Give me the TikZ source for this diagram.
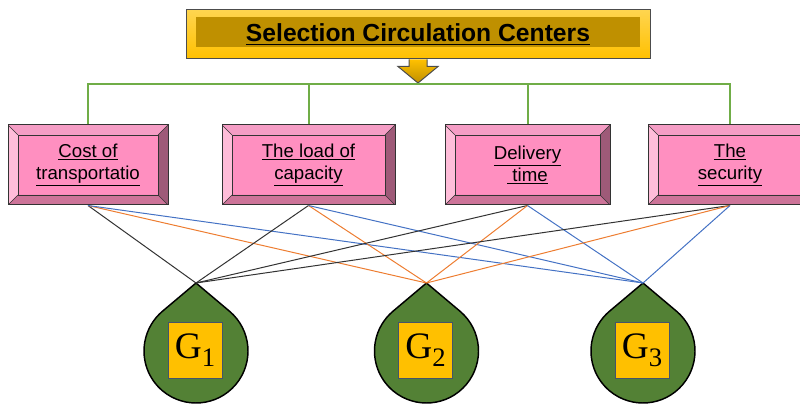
\documentclass[tikz,border=0pt]{standalone}
\usepackage{fontspec}
\setmainfont{Liberation Sans}
\newfontfamily\altfont{Liberation Serif}
\usetikzlibrary{positioning}

\definecolor{pinkfront}{HTML}{FF8FC0}
\definecolor{pinktop}{HTML}{F59DC5}
\definecolor{pinkleft}{HTML}{FFBDD9}
\definecolor{pinkright}{HTML}{9E5A78}
\definecolor{pinkbottom}{HTML}{CD7499}
\definecolor{goldlight}{HTML}{FFD54F}
\definecolor{gold}{HTML}{FFC000}
\definecolor{golddark}{HTML}{BF9000}
\definecolor{busgreen}{HTML}{70AD47}
\definecolor{dropgreen}{HTML}{538135}
\definecolor{lineorange}{HTML}{ED7D31}
\definecolor{lineblue}{HTML}{4472C4}
\definecolor{boxedge}{HTML}{44546A}

% alternative label, G with a large lowered index
\newcommand{\altlabel}[1]{{\altfont G\raisebox{-0.22em}{\fontsize{20}{22}\selectfont #1}}}

\tikzset{
  titlebox/.style={draw=black!70, line width=0.75pt, top color=goldlight, bottom color=gold,
    minimum width=348pt, minimum height=36.75pt, inner sep=0pt,
    font=\fontsize{18.5}{20}\selectfont\bfseries,
    path picture={
      \fill[golddark] ([xshift=7.5pt,yshift=-5.25pt]path picture bounding box.north west)
        rectangle ([xshift=-7.5pt,yshift=9pt]path picture bounding box.south east);
    }},
  critbox/.style={draw=black!80, line width=0.75pt, fill=pinkfront,
    minimum height=60pt, inner sep=0pt, align=center,
    font=\fontsize{14}{16.5}\selectfont,
    path picture={
      \fill[pinktop] (path picture bounding box.north west) -- (path picture bounding box.north east)
        -- ([xshift=-7.5pt,yshift=-7.5pt]path picture bounding box.north east)
        -- ([xshift=7.5pt,yshift=-7.5pt]path picture bounding box.north west) -- cycle;
      \fill[pinkleft] (path picture bounding box.north west) -- (path picture bounding box.south west)
        -- ([xshift=7.5pt,yshift=7.5pt]path picture bounding box.south west)
        -- ([xshift=7.5pt,yshift=-7.5pt]path picture bounding box.north west) -- cycle;
      \fill[pinkright] (path picture bounding box.north east) -- (path picture bounding box.south east)
        -- ([xshift=-7.5pt,yshift=7.5pt]path picture bounding box.south east)
        -- ([xshift=-7.5pt,yshift=-7.5pt]path picture bounding box.north east) -- cycle;
      \fill[pinkbottom] (path picture bounding box.south west) -- (path picture bounding box.south east)
        -- ([xshift=-7.5pt,yshift=7.5pt]path picture bounding box.south east)
        -- ([xshift=7.5pt,yshift=7.5pt]path picture bounding box.south west) -- cycle;
      \draw[black!80, line width=0.6pt]
        ([xshift=7.5pt,yshift=-7.5pt]path picture bounding box.north west)
        rectangle ([xshift=-7.5pt,yshift=7.5pt]path picture bounding box.south east);
      \draw[black!80, line width=0.5pt]
        (path picture bounding box.north west) -- ++(7.5pt,-7.5pt)
        (path picture bounding box.north east) -- ++(-7.5pt,-7.5pt)
        (path picture bounding box.south west) -- ++(7.5pt,7.5pt)
        (path picture bounding box.south east) -- ++(-7.5pt,7.5pt);
    }},
  gbox/.style={draw=boxedge, line width=0.75pt, fill=gold, minimum width=40.5pt,
    minimum height=42pt, inner sep=0pt, font=\fontsize{28}{30}\selectfont},
  drop/.style={fill=dropgreen, draw=black, line width=1.1pt},
  bus/.style={busgreen, line width=1.5pt},
  toone/.style={black!80, line width=0.75pt},
  totwo/.style={lineorange, line width=0.75pt},
  tothree/.style={lineblue, line width=0.75pt}
}

\begin{document}
\begin{tikzpicture}[x=0.75pt,y=0.75pt]
\clip (0,0) rectangle (800,404);

% heading and its arrow
\node[titlebox] (title) at (418,369.5) {\underline{Selection Circulation Centers}};
\draw[black!70, line width=0.75pt, top color=gold, bottom color=golddark]
  ([xshift=-6.75pt]title.south) -- ++(0,-5.25pt) -- ++(-8.25pt,0) -- (418,321)
  -- ([xshift=15pt,yshift=-5.25pt]title.south) -- ++(-8.25pt,0) -- ([xshift=6.75pt]title.south);

% criteria
\node[critbox, minimum width=120pt] (c1) at (88,239) {\underline{Cost of}\\\underline{transportatio}};
\node[critbox, minimum width=129.75pt] (c2) at (308.5,239) {\underline{The load of}\\\underline{capacity}};
\node[critbox, minimum width=123.75pt] (c3) at (527.5,239) {\underline{Delivery}\\\underline{ time}};
\node[critbox, minimum width=123pt] (c4) at (730,239) {\underline{The}\\\underline{security}};

\draw[bus] (c1.north) -- ++(0,40) -| (c4.north);
\draw[bus] (c2.north) -- ++(0,40);
\draw[bus] (c3.north) -- ++(0,40);

% alternatives
\foreach \i/\x in {1/196,2/426.5,3/643}{
  \draw[drop] (\x,121) -- ([shift={(50:52)}]\x,53) arc[start angle=50, end angle=-230, radius=52] -- cycle;
  \node[gbox] (g\i) at (\x-1,54) {\altlabel{\i}};
  \coordinate (t\i) at (\x,121);
}

% links
\foreach \c in {1,...,4}{
  \draw[toone] (c\c.south) -- (t1);
  \draw[totwo] (c\c.south) -- (t2);
  \draw[tothree] (c\c.south) -- (t3);
}
\end{tikzpicture}
\end{document}
